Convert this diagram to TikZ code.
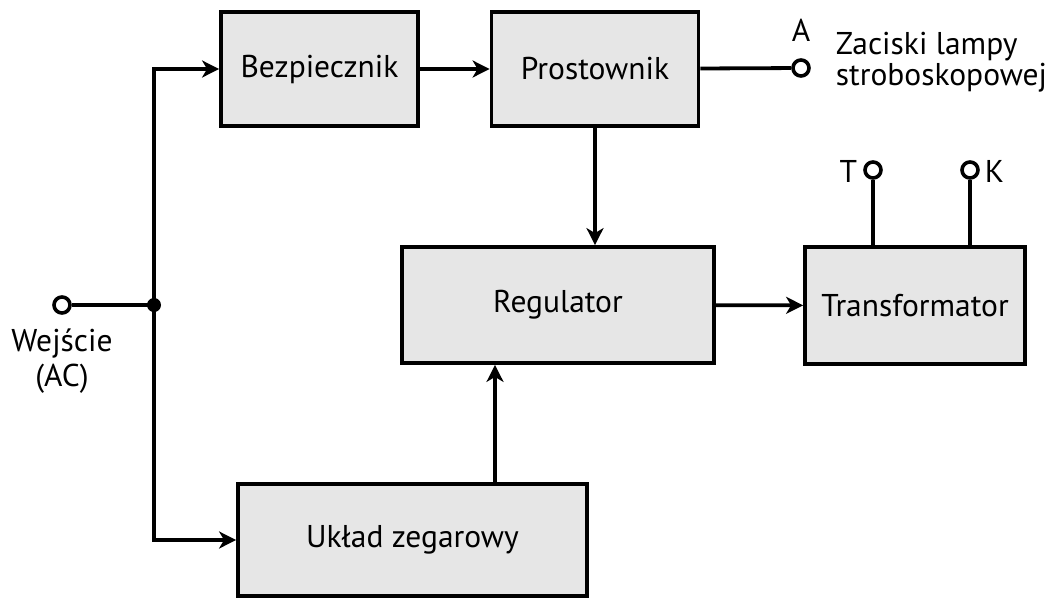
\documentclass[tikz,border=0pt]{standalone}
\usepackage{fontspec}
\setmainfont{PT Sans}
\usetikzlibrary{arrows.meta}
\definecolor{boxfill}{HTML}{E6E6E6}
\begin{document}
\begin{tikzpicture}[x=1pt,y=-1pt,
  line width=3.8pt,
  block/.style={draw, fill=boxfill, inner sep=0pt, font=\fontsize{31.5}{34}\selectfont},
  arr/.style={-{Stealth[length=17pt,width=17pt,inset=5pt]}},
  term/.style={circle, draw, fill=white, inner sep=0pt, minimum size=16pt, line width=3.6pt},
  dot/.style={circle, fill=black, inner sep=0pt, minimum size=14pt},
  lbl/.style={inner sep=0pt, font=\fontsize{31.5}{31}\selectfont}]
\useasboundingbox (0,0) rectangle (1063,598);

% blocks
\node[block, minimum width=197pt, minimum height=114pt] (bez) at (319.5,69) {Bezpiecznik};
\node[block, minimum width=207pt, minimum height=114pt] (pros) at (595,69) {Prostownik};
\node[block, minimum width=312pt, minimum height=116pt] (reg) at (558,305) {Regulator};
\node[block, minimum width=220pt, minimum height=117pt] (tr) at (915,305.5) {Transformator};
\node[block, minimum width=349pt, minimum height=112pt] (ukl) at (412.5,540) {Układ zegarowy};

% input terminal and branch point
\coordinate (j) at (154,305);
\node[term] (in) at (62,305) {};
\node[lbl, align=center, font=\fontsize{31.5}{35}\selectfont] (inlbl) at (62,361) {Wejście\\(AC)};

% output terminals
\node[term] (a) at (801,68) {};
\node[lbl] (alab) at (801,30) {A};
\node[lbl, align=left, anchor=west] (zac) at (834,62) {Zaciski lampy\\stroboskopowej};
\node[term] (t) at (873,170) {};
\node[lbl, anchor=east] (tlab) at (859,171) {T};
\node[term] (k) at (970,170) {};
\node[lbl, anchor=west] (klab) at (983,171) {K};

% connectors
\draw (in) -- (j);
\draw[arr] (j) |- (bez.west);
\draw[arr] (j) |- (ukl.west);
\draw[arr] (bez) -- (pros);
\draw (pros) -- (a);
\draw[arr] (pros.south) -- (pros.south |- reg.north);
\coordinate (uz) at ([xshift=82.5]ukl.north);
\draw[arr] (uz) -- (uz |- reg.south);
\draw[arr] (reg) -- (tr);
\draw (t) -- (t |- tr.north);
\draw (k) -- (k |- tr.north);
\node[dot] (jd) at (j) {};
\end{tikzpicture}
\end{document}
